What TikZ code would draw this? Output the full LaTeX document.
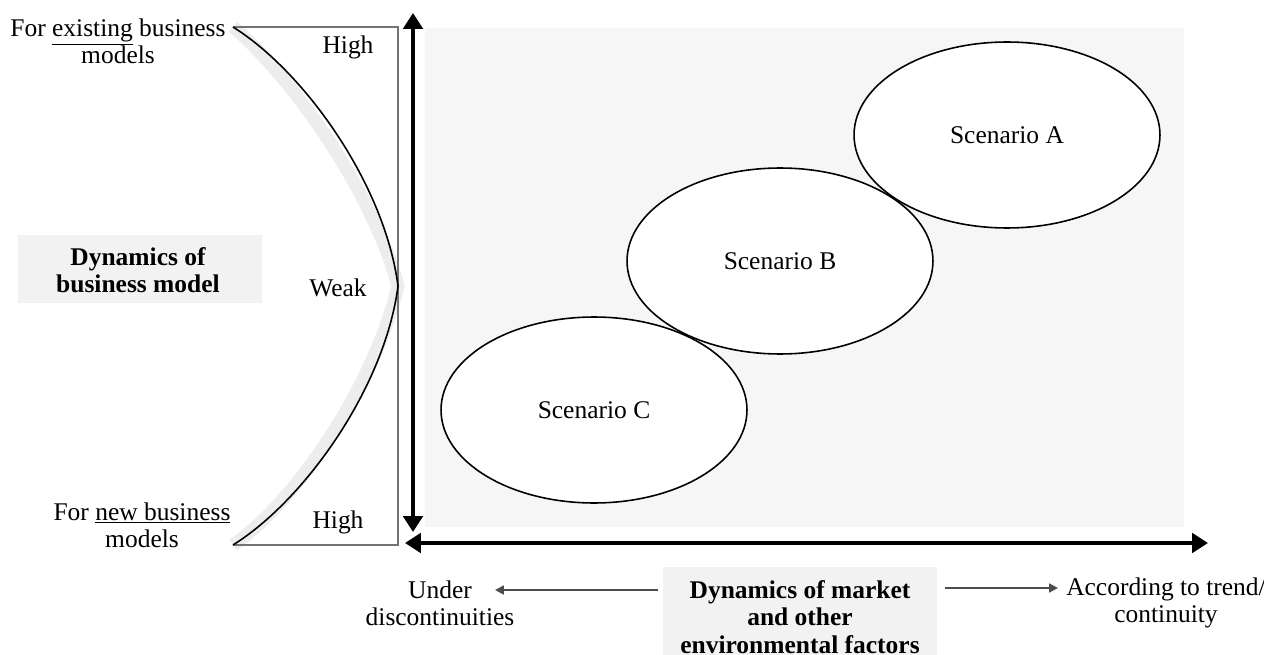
\documentclass[tikz,border=0pt]{standalone}
\usepackage{fontspec}
\setmainfont{Liberation Serif}
\usetikzlibrary{shapes.geometric, arrows.meta, positioning}
\definecolor{panelgray}{gray}{0.965}
\definecolor{boxgray}{gray}{0.95}
\definecolor{edgegray}{gray}{0.45}
\definecolor{shadowgray}{gray}{0.93}

\tikzset{
    txt/.style={align=center, inner sep=1pt, font=\fontsize{14.5}{15.5}\selectfont},
    boldtxt/.style={txt, font=\fontsize{14.5}{15.5}\selectfont\bfseries},
    scenario/.style={draw, ellipse, fill=white, line width=0.9pt, minimum width=6.12cm, minimum height=3.72cm, txt},
    axis/.style={line width=2pt, {Triangle[length=9pt,width=11pt]}-{Triangle[length=9pt,width=11pt]}},
    smallarrow/.style={draw=gray!60!black, line width=1.1pt, -{Triangle[length=5pt,width=5pt]}},
}

\begin{document}
\begin{tikzpicture}[x=0.02cm, y=-0.02cm]
        \useasboundingbox (0,0) rectangle (1264,655);

        % Background panel of the scenario field
        \fill[panelgray] (425,28) rectangle (1184,527);

        % Corners of the box on the left
        \coordinate (tl) at (233,27);
        \coordinate (tr) at (398,27);
        \coordinate (br) at (398,545);
        \coordinate (bl) at (233,545);
        \coordinate (apex) at (398,286);

        % Shadow along the curves
        \begin{scope}[xshift=-0.26cm, yshift=-0.1cm]
            \draw[shadowgray, line width=0.26cm] (tl) .. controls (305,72) and (385,185) .. (apex)
                .. controls (385,387) and (305,500) .. (bl);
        \end{scope}

        % Drawing the box and the curves
        \draw[edgegray, line width=0.6pt] (tl) -- (tr) -- (br) -- (bl);
        \draw[line width=0.9pt] (tl) .. controls (305,72) and (385,185) .. (apex)
            .. controls (385,387) and (305,500) .. (bl);

        % Axes
        \coordinate (vtop) at (413,13);
        \coordinate (vbot) at (413,532);
        \coordinate (hleft) at (405,543);
        \coordinate (hright) at (1208,543);
        \draw[axis] (vbot) -- (vtop);
        \draw[axis] (hleft) -- (hright);

        % Scenarios
        \node[scenario] (scnC) at (594,410) {Scenario C};
        \node[scenario] (scnB) at (780,261) {Scenario B};
        \node[scenario] (scnA) at (1007,135) {Scenario A};

        % Labels on the left
        \node[txt] (existing) at (118,41) {For \underline{existing} business\\models};
        \node[txt] (newbm) at (142,525) {For \underline{new business}\\models};
        \node[fill=boxgray, minimum width=4.9cm, minimum height=1.36cm] (bmbox) at (140,269) {};
        \node[boldtxt] (bmdyn) at (138,270) {Dynamics of\\business model};
        \node[txt] (hightop) at (348,47) {High};
        \node[txt] (weak) at (338,288) {Weak};
        \node[txt] (highbot) at (338,522) {High};

        % Labels below
        \node[boldtxt, fill=boxgray, minimum width=5.48cm, minimum height=2cm] (market) at (800,617)
            {Dynamics of market\\and other\\environmental factors};
        \node[txt] (under) at (440,603) {Under\\discontinuities};
        \node[txt] (trend) at (1166,603) {According to trend/\\continuity};

        % Small arrows
        \coordinate (lstart) at (658,590);
        \coordinate (ltip) at (495,590);
        \coordinate (rstart) at (945,588);
        \coordinate (rtip) at (1058,588);
        \draw[smallarrow] (lstart) -- (ltip);
        \draw[smallarrow] (rstart) -- (rtip);
    \end{tikzpicture}
\end{document}
